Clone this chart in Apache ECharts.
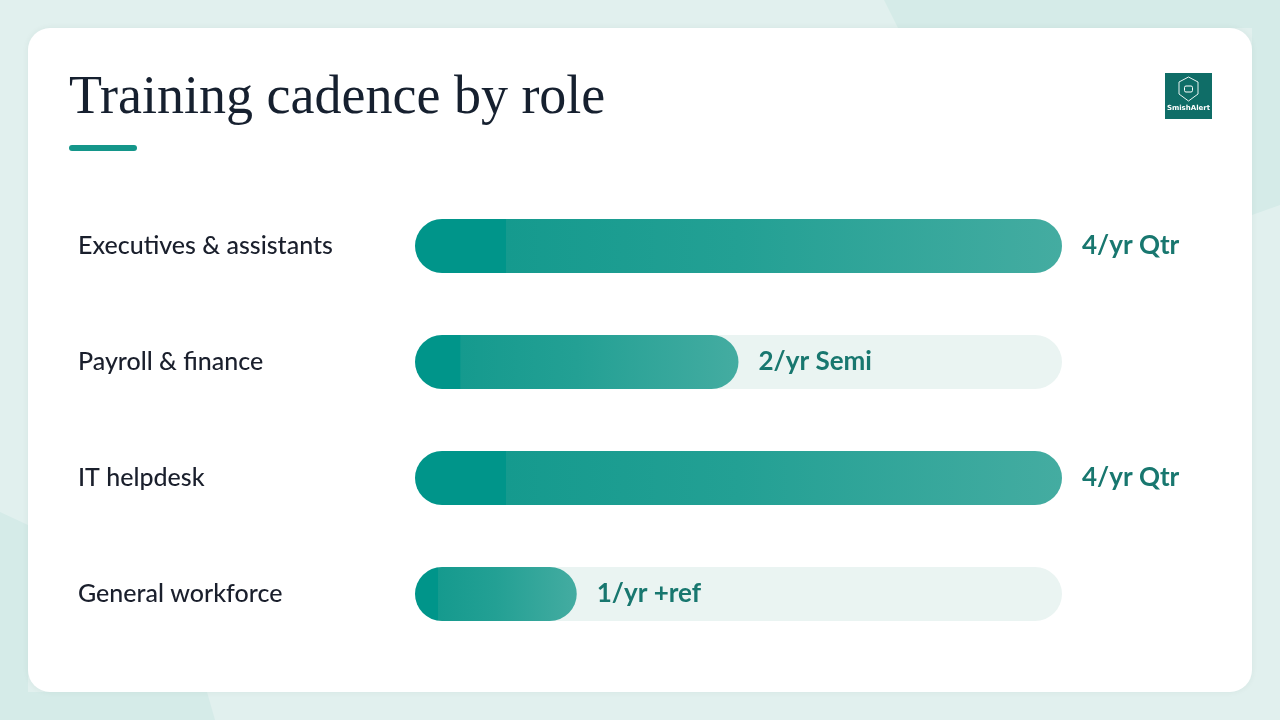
<!DOCTYPE html>
<html>
<head>
<meta charset="utf-8">
<script src="https://cdn.jsdelivr.net/npm/echarts@6/dist/echarts.min.js"></script>
<style>
html,body{margin:0;padding:0;background:#e1f0ee;}
#chart{width:1280px;height:720px;}
</style>
</head>
<body>
<div id="chart"></div>
<script>
var categories = ['Executives & assistants', 'Payroll & finance', 'IT helpdesk', 'General workforce'];
var values = [4, 2, 4, 1];
var valueLabels = ['4/yr Qtr', '2/yr Semi', '4/yr Qtr', '1/yr +ref'];
var maxValue = 4;
var titleText = 'Training cadence by role';

var chart = echarts.init(document.getElementById('chart'), null, {renderer: 'canvas'});

var barGradient = new echarts.graphic.LinearGradient(0, 0, 1, 0, [
  {offset: 0, color: '#00958a'},
  {offset: 0.14, color: '#00958a'},
  {offset: 0.141, color: '#159a8e'},
  {offset: 0.5, color: '#23a094'},
  {offset: 1, color: '#44aca1'}
]);

var option = {
  backgroundColor: '#e1f0ee',
  animation: false,
  graphic: [
    {type: 'polygon', z: -10, shape: {points: [[884,0],[1280,0],[1280,205],[1252,215],[1252,28],[898,28]]}, style: {fill: '#d5ebe8'}},
    {type: 'polygon', z: -10, shape: {points: [[0,512],[28,525],[28,692],[207,692],[215,720],[0,720]]}, style: {fill: '#d5ebe8'}},
    {type: 'rect', z: -5, shape: {x: 28, y: 28, width: 1224, height: 664, r: 22}, style: {fill: '#ffffff', shadowBlur: 6, shadowColor: 'rgba(0,60,50,0.06)'}},
    {type: 'text', left: 69, top: 72, style: {text: titleText, font: '54px "Liberation Serif", serif', fill: '#16202f'}},
    {type: 'rect', shape: {x: 69, y: 145, width: 68, height: 6, r: 3}, style: {fill: '#14968a'}},
    {type: 'rect', shape: {x: 1165, y: 73, width: 47, height: 46}, style: {fill: '#0f6d67'}},
    {type: 'polygon', shape: {points: [[1188.5,77],[1198,82],[1198,94],[1188.5,101],[1179,94],[1179,82]]}, style: {fill: 'none', stroke: '#e8f4f2', lineWidth: 1}},
    {type: 'rect', shape: {x: 1184.5, y: 86, width: 8, height: 6, r: 1.5}, style: {fill: 'none', stroke: '#ffffff', lineWidth: 1}},
    {type: 'text', x: 1188.5, y: 108, style: {text: 'SmishAlert', font: 'bold 7px "DejaVu Sans", sans-serif', fill: '#ffffff', align: 'center', verticalAlign: 'middle'}}
  ],
  grid: {left: 415, right: 218, top: 188, bottom: 68, containLabel: false},
  xAxis: {
    type: 'value', min: 0, max: maxValue, show: false
  },
  yAxis: {
    type: 'category', data: categories, inverse: true,
    axisLine: {show: false}, axisTick: {show: false}, splitLine: {show: false},
    axisLabel: {
      align: 'left', margin: 337,
      fontFamily: 'Lato, sans-serif', fontSize: 25, color: '#1a1f2c', fontWeight: 500
    }
  },
  series: [{
    type: 'bar',
    data: values,
    barWidth: 54,
    showBackground: true,
    backgroundStyle: {color: '#eaf4f2', borderRadius: 27},
    itemStyle: {color: barGradient, borderRadius: 27},
    label: {
      show: true, position: 'right', distance: 20,
      formatter: function (p) { return valueLabels[p.dataIndex]; },
      fontFamily: 'Lato, sans-serif', fontSize: 26, fontWeight: 'bold', color: '#18776f'
    }
  }]
};
chart.setOption(option);
</script>
</body>
</html>
